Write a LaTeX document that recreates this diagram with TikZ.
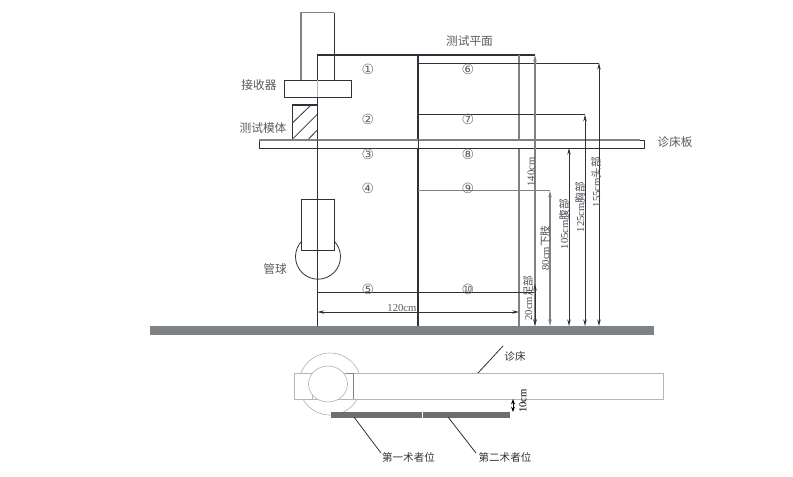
\documentclass[tikz,border=0pt]{standalone}
\usepackage{fontspec}
\setmainfont{Liberation Serif}
\newfontfamily\cjkf{Noto Sans CJK SC}
\newfontfamily\circf{DejaVu Sans}
\usetikzlibrary{arrows.meta}
\definecolor{ink}{HTML}{2E3138}
\definecolor{midg}{HTML}{7F8285}
\definecolor{lightg}{HTML}{B4B6B8}
\tikzset{
  base/.style={draw=ink,line width=0.6pt},
  grayline/.style={draw=midg,line width=0.8pt},
  thin gray/.style={draw=lightg,line width=0.5pt},
  dimtip/.style={{Stealth[length=5pt,width=2.6pt]}-{Stealth[length=5pt,width=2.6pt]}},
  lab/.style={font=\cjkf\fontsize{8.8}{10}\selectfont,text=ink!80,inner sep=0pt},
  lab small/.style={font=\cjkf\fontsize{7.9}{9}\selectfont,text=ink,inner sep=0pt},
  num/.style={font=\circf\fontsize{10.5}{12}\selectfont,text=ink!75,inner sep=0pt},
  dim/.style={rotate=90,font=\fontsize{8}{10}\selectfont,text=ink!85,inner sep=0pt},
  bar/.style={fill=midg!85!black,draw=none},
}
\newcommand{\zh}[1]{{\cjkf #1}}
\begin{document}
\begin{tikzpicture}[x=0.75pt,y=-0.75pt]
\useasboundingbox (0,0) rectangle (793,476);
% ground
\fill[midg] (150,326) rectangle (654,335);
% tube ball and tube
\draw[base] (318,256.7) circle (22.5);
\fill[white] (301,199) rectangle (334.5,250);
\draw[base] (301,199) rectangle (334.5,250);
% upper column and receiver
\draw[grayline] (301,80) |- (334,12.7);
\draw[base] (334,12.7) -- (334,80);
\fill[white] (284.5,80) rectangle (351,97);
\draw[base] (284.5,80) rectangle (351,97);
% phantom
\draw[base,line width=0.8pt] (292.5,105) rectangle (317.5,140);
\draw[base] (292.7,122.7) -- (310,106);
\draw[base] (293.3,138.3) -- (317.3,114.3);
\draw[base] (308.3,139.3) -- (317.3,130);
% main frame
\draw[base,line width=0.8pt] (317.5,326) -- (317.5,97);
\draw[draw=lightg,line width=0.6pt] (317.5,97) -- (317.5,80);
\draw[base,line width=0.8pt] (317.5,80) -- (317.5,55) -- (535,55);
\draw[base,line width=0.8pt] (418,55) -- (418,326);
\draw[grayline] (519,55) -- (519,326);
% level lines
\draw[base] (418,63) -- (599,63);
\draw[base] (418,114.7) -- (585,114.7);
\draw[grayline] (418,190.7) -- (550,190.7);
\draw[base] (317.5,292.5) -- (535,292.5);
% bed board
\fill[white] (259,140) rectangle (644,148);
\draw[base] (259,140) rectangle (644,148);
\draw[grayline] (259,140) -- (640,140);
\draw[base] (317.5,140) -- (317.5,148);
\draw[base] (418,140) -- (418,148);
% dimension arrows
\draw[dimtip,grayline] (535,55) -- (535,326);
\draw[dimtip,base] (599,63) -- (599,326);
\draw[dimtip,base] (585,114.7) -- (585,326);
\draw[dimtip,base] (569,148) -- (569,326);
\draw[dimtip,grayline] (550,190.7) -- (550,326);
\draw[dimtip,base] (535,284) -- (535,326);
\draw[dimtip,base] (317.5,312) -- (519,312);
% circled numbers
\foreach \n/\s/\yy in {a/①/69,b/②/119,c/③/154,d/④/188,e/⑤/289}
  \node[num] (n\n) at (368,\yy) {\s};
\foreach \n/\s/\yy in {f/⑥/69,g/⑦/119,h/⑧/154,i/⑨/188,j/⑩/289}
  \node[num] (n\n) at (468,\yy) {\s};
% labels
\node[lab] (plane) at (469.5,41) {测试平面};
\node[lab] (recv) at (259,85) {接收器};
\node[lab] (phan) at (263,128) {测试模体};
\node[lab] (ball) at (275,269.5) {管球};
\node[lab] (board) at (675,142) {诊床板};
\node[font=\fontsize{8}{10}\selectfont,text=ink!80,inner sep=0pt] (w120) at (402,308) {120cm};
\node[dim] (d140) at (531,172) {140cm};
\node[dim] (d20) at (528,298) {20cm\zh{足部}};
\node[dim] (d80) at (545,248) {80cm\zh{下肢}};
\node[dim] (d105) at (564,224) {105cm\zh{腹部}};
\node[dim] (d125) at (580,207) {125cm\zh{胸部}};
\node[dim] (d155) at (596,182) {155cm\zh{头部}};
% lower plan view
\draw[thin gray] (330,384) circle (31);
\fill[white] (294,373) rectangle (663,399);
\draw[thin gray] (294,373) rectangle (663,399);
\draw[thin gray] (312,394) -- (312,399);
\draw[draw=midg,line width=0.5pt] (353,373) -- (353,399);
\draw[draw=midg,line width=0.5pt] (346,373) -- (353,373);
\draw[thin gray,fill=white] (328,384) ellipse (19.5 and 18);
% operator positions
\fill[bar] (331,412) rectangle (422,418);
\fill[bar] (423,412) rectangle (510,418);
\coordinate (p1) at (354,417);
\coordinate (p2) at (448,417);
\coordinate (bedpt) at (478,373);
\coordinate (bedend) at (503,346);
\node[lab small] (op1) at (408.5,457) {第一术者位};
\node[lab small] (op2) at (505,457) {第二术者位};
\node[lab small] (bedl) at (515,356) {诊床};
\coordinate (op1e) at (381,453);
\coordinate (op2e) at (476,453);
\draw[base] (p1) -- (op1e);
\draw[base] (p2) -- (op2e);
\draw[base] (bedpt) -- (bedend);
\draw[{Stealth[length=4pt,width=3pt]}-{Stealth[length=4pt,width=3pt]},draw=black,line width=0.7pt] (513,399) -- (513,412);
\node[rotate=90,font=\fontsize{8}{10}\selectfont,inner sep=0pt] (d10) at (523,401) {10cm};
\end{tikzpicture}
\end{document}
